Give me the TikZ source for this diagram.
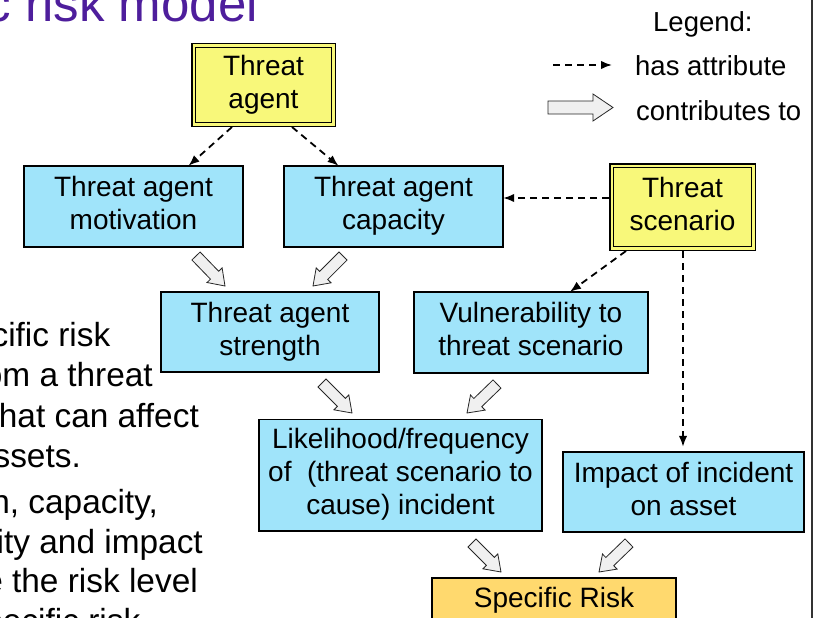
\documentclass[tikz,border=0pt]{standalone}
\usepackage{fontspec}
\setmainfont[Ligatures={NoCommon}]{Liberation Sans}
\usetikzlibrary{arrows.meta,calc}
\definecolor{boxblue}{RGB}{160,228,250}
\definecolor{boxyellow}{RGB}{248,248,122}
\definecolor{riskorange}{RGB}{255,217,110}
\definecolor{titlepurple}{RGB}{78,30,156}
\definecolor{arrowfill}{RGB}{240,240,240}
\newcommand\diagfont{\fontsize{28pt}{33pt}\selectfont}
\newcommand\sidefont{\fontsize{33.4pt}{40pt}\selectfont}
\newcommand\legfont{\fontsize{27.5pt}{32pt}\selectfont}
% #1 tail, #2 tip, #3 shaft half width, #4 head half width, #5 head length
\newcommand\blockarrow[5]{%
  \coordinate (ba) at ($(#2)!#5!(#1)$);
  \path[blockarrowstyle] ($(#1)!#3!90:(#2)$) -- ($(ba)!#3!90:(#2)$) -- ($(ba)!#4!90:(#2)$) -- (#2)
    -- ($(ba)!#4!-90:(#2)$) -- ($(ba)!#3!-90:(#2)$) -- ($(#1)!#3!-90:(#2)$) -- cycle;}
\tikzset{
  bluebox/.style={draw, line width=1.6pt, fill=boxblue, inner sep=0pt, outer sep=0pt, align=center, font=\diagfont},
  yellowbox/.style={draw, line width=1.5pt, double=boxyellow, double distance=2.2pt, fill=boxyellow, inner sep=0pt, outer sep=0pt, align=center, font=\diagfont},
  riskbox/.style={bluebox, fill=riskorange},
  attr/.style={line width=1.8pt, dash pattern=on 7pt off 5pt, -{Latex[length=11pt,width=8.5pt]}},
  blockarrowstyle/.style={draw=black!85, line width=0.8pt, fill=arrowfill, line join=miter},
  sidetext/.style={anchor=base east, inner sep=0pt, font=\sidefont},
  legtext/.style={anchor=base west, inner sep=0pt, font=\legfont}
}
\begin{document}
\begin{tikzpicture}[x=1pt,y=-1pt]
\useasboundingbox (0,0) rectangle (819,618);
\clip (0,0) rectangle (819,618);
\fill[white] (0,0) rectangle (819,618);

% title (cut off)
\node[anchor=base east, inner sep=0pt, text=titlepurple, font=\fontsize{51pt}{60pt}\selectfont] (title) at (258,22) {c risk model};

% side text (cut off)
\node[sidetext] (s1) at (110.5,346) {cific risk};
\node[sidetext] (s2) at (153,386) {om a threat};
\node[sidetext] (s3) at (199,427) {hat can affect};
\node[sidetext] (s4) at (81,467) {ssets.};
\node[sidetext] (s5) at (158,513) {n, capacity,};
\node[sidetext] (s6) at (203,553) {ity and impact};
\node[sidetext] (s7) at (198,592) {e the risk level};
\node[sidetext] (s8) at (140.5,632) {specific risk};

% frame line
\draw[line width=1.5pt, black!80] (812,0) -- (812,618);

% nodes
\node[yellowbox, minimum width=139.8pt, minimum height=78.8pt] (ta) at (263.5,85) {\strut Threat\\agent\strut};
\node[yellowbox, minimum width=141.8pt, minimum height=82.8pt] (ts) at (682.5,207) {\strut Threat\\scenario\strut};
\node[bluebox, minimum width=219.4pt, minimum height=81.4pt] (mot) at (133.5,206.5) {\strut Threat agent\\motivation\strut};
\node[bluebox, minimum width=219.4pt, minimum height=81.4pt] (cap) at (393.5,206.5) {\strut Threat agent\\capacity\strut};
\node[bluebox, minimum width=218.4pt, minimum height=80.4pt] (str) at (270,332) {\strut Threat agent\\strength\strut};
\node[bluebox, minimum width=234.4pt, minimum height=81.4pt] (vul) at (531,332.5) {\strut Vulnerability to\\threat scenario\strut};
\node[bluebox, minimum width=283.4pt, minimum height=111.4pt] (lik) at (400.5,475) {\strut Likelihood/frequency\\of\ \ (threat scenario to\\cause) incident\strut};
\node[bluebox, minimum width=241.4pt, minimum height=80.4pt] (imp) at (683.5,492) {\strut Impact of incident\\on asset\strut};
\node[riskbox, minimum width=244.4pt, minimum height=46pt] (sr) at (554,600.8) {\strut Specific Risk\strut};

% has-attribute connectors
\draw[attr] ($(ta.south)+(-31.5,2.6)$) -- ($(mot.north)+(55,0)$);
\draw[attr] ($(ta.south)+(28.5,2.6)$) -- ($(cap.north)+(-55,0)$);
\draw[attr] ($(ts.west)+(-2.6,-9)$) -- ($(cap.east)+(0,-8.5)$);
\draw[attr] ($(ts.south)+(-56.5,2.6)$) -- ($(vul.north)+(39,0)$);
\draw[attr] ($(ts.south)+(0.5,2.6)$) -- ($(imp.north)+(-0.5,-5)$);

% contributes-to arrows
\coordinate (c1a) at (196,256); \coordinate (c1b) at (225,286);
\coordinate (c2a) at (343,256); \coordinate (c2b) at (313,286);
\coordinate (c3a) at (322,383); \coordinate (c3b) at (352,413);
\coordinate (c4a) at (497,384); \coordinate (c4b) at (467,413);
\coordinate (c5a) at (472,543); \coordinate (c5b) at (501,572);
\coordinate (c6a) at (629,543); \coordinate (c6b) at (599,572);
\blockarrow{c1a}{c1b}{5.7pt}{10.5pt}{15pt}
\blockarrow{c2a}{c2b}{5.7pt}{10.5pt}{15pt}
\blockarrow{c3a}{c3b}{5.7pt}{10.5pt}{15pt}
\blockarrow{c4a}{c4b}{5.7pt}{10.5pt}{15pt}
\blockarrow{c5a}{c5b}{5.7pt}{10.5pt}{15pt}
\blockarrow{c6a}{c6b}{5.7pt}{10.5pt}{15pt}

% legend
\node[anchor=base west, inner sep=0pt, font=\legfont] (leg) at (653,32) {Legend:};
\node[legtext] (l1) at (635,75) {has attribute};
\node[legtext] (l2) at (636,120) {contributes to};
\coordinate (la) at (553,65); \coordinate (lb) at (612,65);
\draw[attr] (la) -- (lb);
\coordinate (lc) at (548,107.5); \coordinate (ld) at (613,107.5);
\blockarrow{lc}{ld}{6.5pt}{13.5pt}{20pt}
\end{tikzpicture}
\end{document}
